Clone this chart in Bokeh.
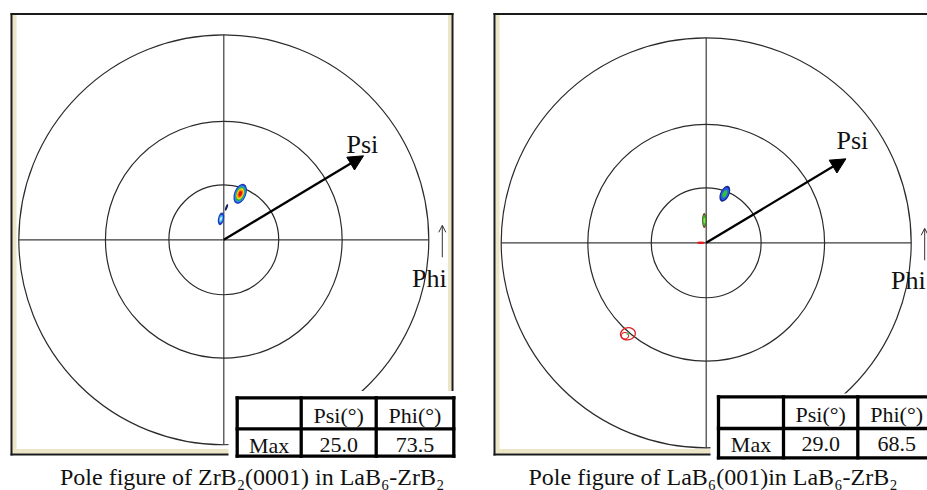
import math
from bokeh.plotting import figure
from bokeh.models import Range1d, Arrow, NormalHead, OpenHead
from bokeh.core.properties import value
from bokeh.embed import file_html
from bokeh.resources import INLINE

# ---------------- data ----------------
ring_psi = [30, 60, 90]                      # stereographic rings, degrees
p1_spot_psi = [26.8, 11.8, 18.0]             # intensity spots, panel 1
p1_spot_phi = [70.4, 97.6, 85.2]
p2_spot_psi = [28.7, 12.5, 3.0, 60.7]        # intensity spots, panel 2
p2_spot_phi = [69.2, 94.9, 180.0, 229.3]
table_head = ["", "Psi(°)", "Phi(°)"]
table_row = "Max"
p1_max = ["25.0", "73.5"]
p2_max = ["29.0", "68.5"]
captions = ["Pole figure of ZrB₂(0001) in LaB₆-ZrB₂",
            "Pole figure of LaB₆(001)in LaB₆-ZrB₂"]
axis_names = ["Psi", "Phi"]

# ---------------- layout / style ----------------
W, H = 927, 490
def Y(sy):                      # screen y -> data y
    return H - sy
def TY(sy, fs):                 # text baseline (screen) -> data y, with renderer baseline correction
    return H - sy + 0.3 * fs
R = 205                         # projection radius (px)
FONT = value("Liberation Serif")
BEIGE = "#ece5c6"
DARK = "#1a1a1a"

spot_styles = [
    [  # panel 1
        dict(w=12, h=21, a=-22, layers=[(1.0, "#1c3cc0"), (0.84, "#2f8fe8"), (0.7, "#22b040"),
                                          (0.56, "#f2e21c"), (0.42, "#ff7a00"), (0.27, "#e01010")]),
        dict(w=6, h=13, a=-12, layers=[(1.0, "#1c3cc0"), (0.6, "#40b8e8"), (0.3, "#d8f0ff")]),
        dict(w=2.2, h=7, a=-20, layers=[(1.0, "#10205a")]),
    ],
    [  # panel 2
        dict(w=9, h=17, a=-25, layers=[(1.0, "#142a90"), (0.78, "#2a5ce0"), (0.45, "#30c040")]),
        dict(w=4.5, h=15, a=0, layers=[(1.0, "#7a3020"), (0.8, "#30b030"), (0.4, "#90e050")]),
        dict(w=8, h=2.6, a=0, layers=[(1.0, "#e02020")]),
        dict(w=15, h=12, a=12, outline="#e02020", layers=[(0.2, "#50c050")]),
    ],
]

panels = [
    dict(cx=223.3, cy=239.3, frame=(10, 12.5, 453, 455),
         white=(228, 390.5, 470, 460),
         tcols=[236.7, 300.7, 375.7, 453.3], trows=[397.3, 428.3, 455.7],
         psi_lab=(346, 151.5), phi_lab=(411.5, 286), cap_x=59.5,
         psi=p1_spot_psi, phi=p1_spot_phi, maxv=p1_max),
    dict(cx=705.7, cy=242.3, frame=(493, 12.5, 937, 455),
         white=(710, 393, 940, 460),
         tcols=[718, 783, 857.3, 935], trows=[396.3, 428, 457.3],
         psi_lab=(836, 148), phi_lab=(890.5, 288), cap_x=528,
         psi=p2_spot_psi, phi=p2_spot_phi, maxv=p2_max),
]

p = figure(width=W, height=H, x_range=Range1d(0, W), y_range=Range1d(0, H),
           x_axis_type=None, y_axis_type=None, toolbar_location=None,
           output_backend="svg", min_border=0, outline_line_color=None,
           background_fill_color="white", border_fill_color="white")

def proj(cx, cy, psi, phi):
    r = R * math.tan(math.radians(psi) / 2)
    return cx + r * math.cos(math.radians(phi)), Y(cy) + r * math.sin(math.radians(phi))

for k, pn in enumerate(panels):
    cx, cy = pn["cx"], pn["cy"]
    yc = Y(cy)
    x0, y0, x1, y1 = pn["frame"]
    # frame: beige inner strips and dark outline
    p.quad(left=[x0 + 2, x1 - 5.5, x0 + 2], right=[x0 + 6, x1 - 2, x1 - 2],
           top=[Y(y0 + 2), Y(y0 + 2), Y(y1 - 6.5)], bottom=[Y(y1 - 2), Y(y1 - 2), Y(y1 - 2)],
           fill_color=BEIGE, line_color=None)
    p.quad(left=[x0, x0, x1 - 2, x0], right=[x1, x0 + 2, x1, x1],
           top=[Y(y0), Y(y0), Y(y0), Y(y1 - 2)], bottom=[Y(y0 + 2), Y(y1), Y(y1), Y(y1)],
           fill_color=DARK, line_color=None)

    # crosshair and rings
    rr = [R * math.tan(math.radians(v) / 2) for v in ring_psi]
    rmax = max(rr)
    p.segment(x0=[cx - rmax, cx], y0=[yc, yc - rmax], x1=[cx + rmax, cx], y1=[yc, yc + rmax],
              line_color="#3c3c3c", line_width=1.2)
    p.circle(x=[cx] * len(rr), y=[yc] * len(rr), radius=rr, fill_color=None,
             line_color="#2a2a2a", line_width=1.2)

    # intensity spots
    for psi, phi, st in zip(pn["psi"], pn["phi"], spot_styles[k]):
        sx, sy = proj(cx, cy, psi, phi)
        if "outline" in st:
            p.ellipse(x=[sx], y=[sy], width=[st["w"]], height=[st["h"]],
                      angle=[math.radians(st["a"])], fill_color="white", fill_alpha=0.0,
                      line_color=st["outline"], line_width=1.3)
            p.ellipse(x=[sx - 3], y=[sy - 2], width=[st["w"] * 0.5], height=[st["h"] * 0.55],
                      angle=[math.radians(st["a"])], fill_color=None,
                      line_color=st["outline"], line_width=1.1)
        for f, col in st["layers"]:
            p.ellipse(x=[sx], y=[sy], width=[st["w"] * f], height=[st["h"] * f],
                      angle=[math.radians(st["a"])], fill_color=col, line_color=None)

    # white table background
    wx0, wy0, wx1, wy1 = pn["white"]
    p.quad(left=[wx0], right=[wx1], top=[Y(wy0)], bottom=[Y(wy1)],
           fill_color="white", line_color=None)

    # table
    tc, tr = pn["tcols"], pn["trows"]
    p.segment(x0=[tc[0]] * len(tr), x1=[tc[-1]] * len(tr), y0=[Y(v) for v in tr], y1=[Y(v) for v in tr],
              line_color="black", line_width=3.3, line_cap="square")
    p.segment(x0=tc, x1=tc, y0=[Y(tr[0])] * len(tc), y1=[Y(tr[-1])] * len(tc),
              line_color="black", line_width=3.3, line_cap="square")
    ccx = [(tc[i] + tc[i + 1]) / 2 for i in range(3)]
    p.text(x=ccx + ccx, y=[TY(tr[0] + 24.5, 22)] * 3 + [TY(tr[0] + 54, 22)] * 3,
           text=table_head + [table_row] + pn["maxv"],
           text_font=FONT, text_font_size="22px", text_align="center",
           text_baseline="alphabetic", text_color="#111111")

    # axis labels
    p.text(x=[pn["psi_lab"][0], pn["phi_lab"][0]],
           y=[TY(pn["psi_lab"][1], 26), TY(pn["phi_lab"][1], 26)],
           text=axis_names, text_font=FONT, text_font_size="26px", text_align="left",
           text_baseline="alphabetic", text_color="#111111")

    # Psi arrow (radial) and Phi arrow (tangential)
    ang, ln = math.radians(31), 163
    p.add_layout(Arrow(x_start=cx, y_start=yc, x_end=cx + ln * math.cos(ang), y_end=yc + ln * math.sin(ang),
                       line_width=2.3, line_color="black",
                       end=NormalHead(size=15, fill_color="black", line_color="black")))
    p.add_layout(Arrow(x_start=cx + 218.5, y_start=Y(cy + 17.5), x_end=cx + 218.5, y_end=Y(cy - 14.5),
                       line_width=1, line_color="#333333",
                       end=OpenHead(size=7, line_width=1, line_color="#333333")))

    # caption
    p.text(x=[pn["cap_x"]], y=[TY(484, 24)], text=[captions[k]], text_font=FONT,
           text_font_size="24px", text_align="left", text_baseline="alphabetic",
           text_color="#111111")

open("out.html", "w").write(file_html(p, INLINE))
